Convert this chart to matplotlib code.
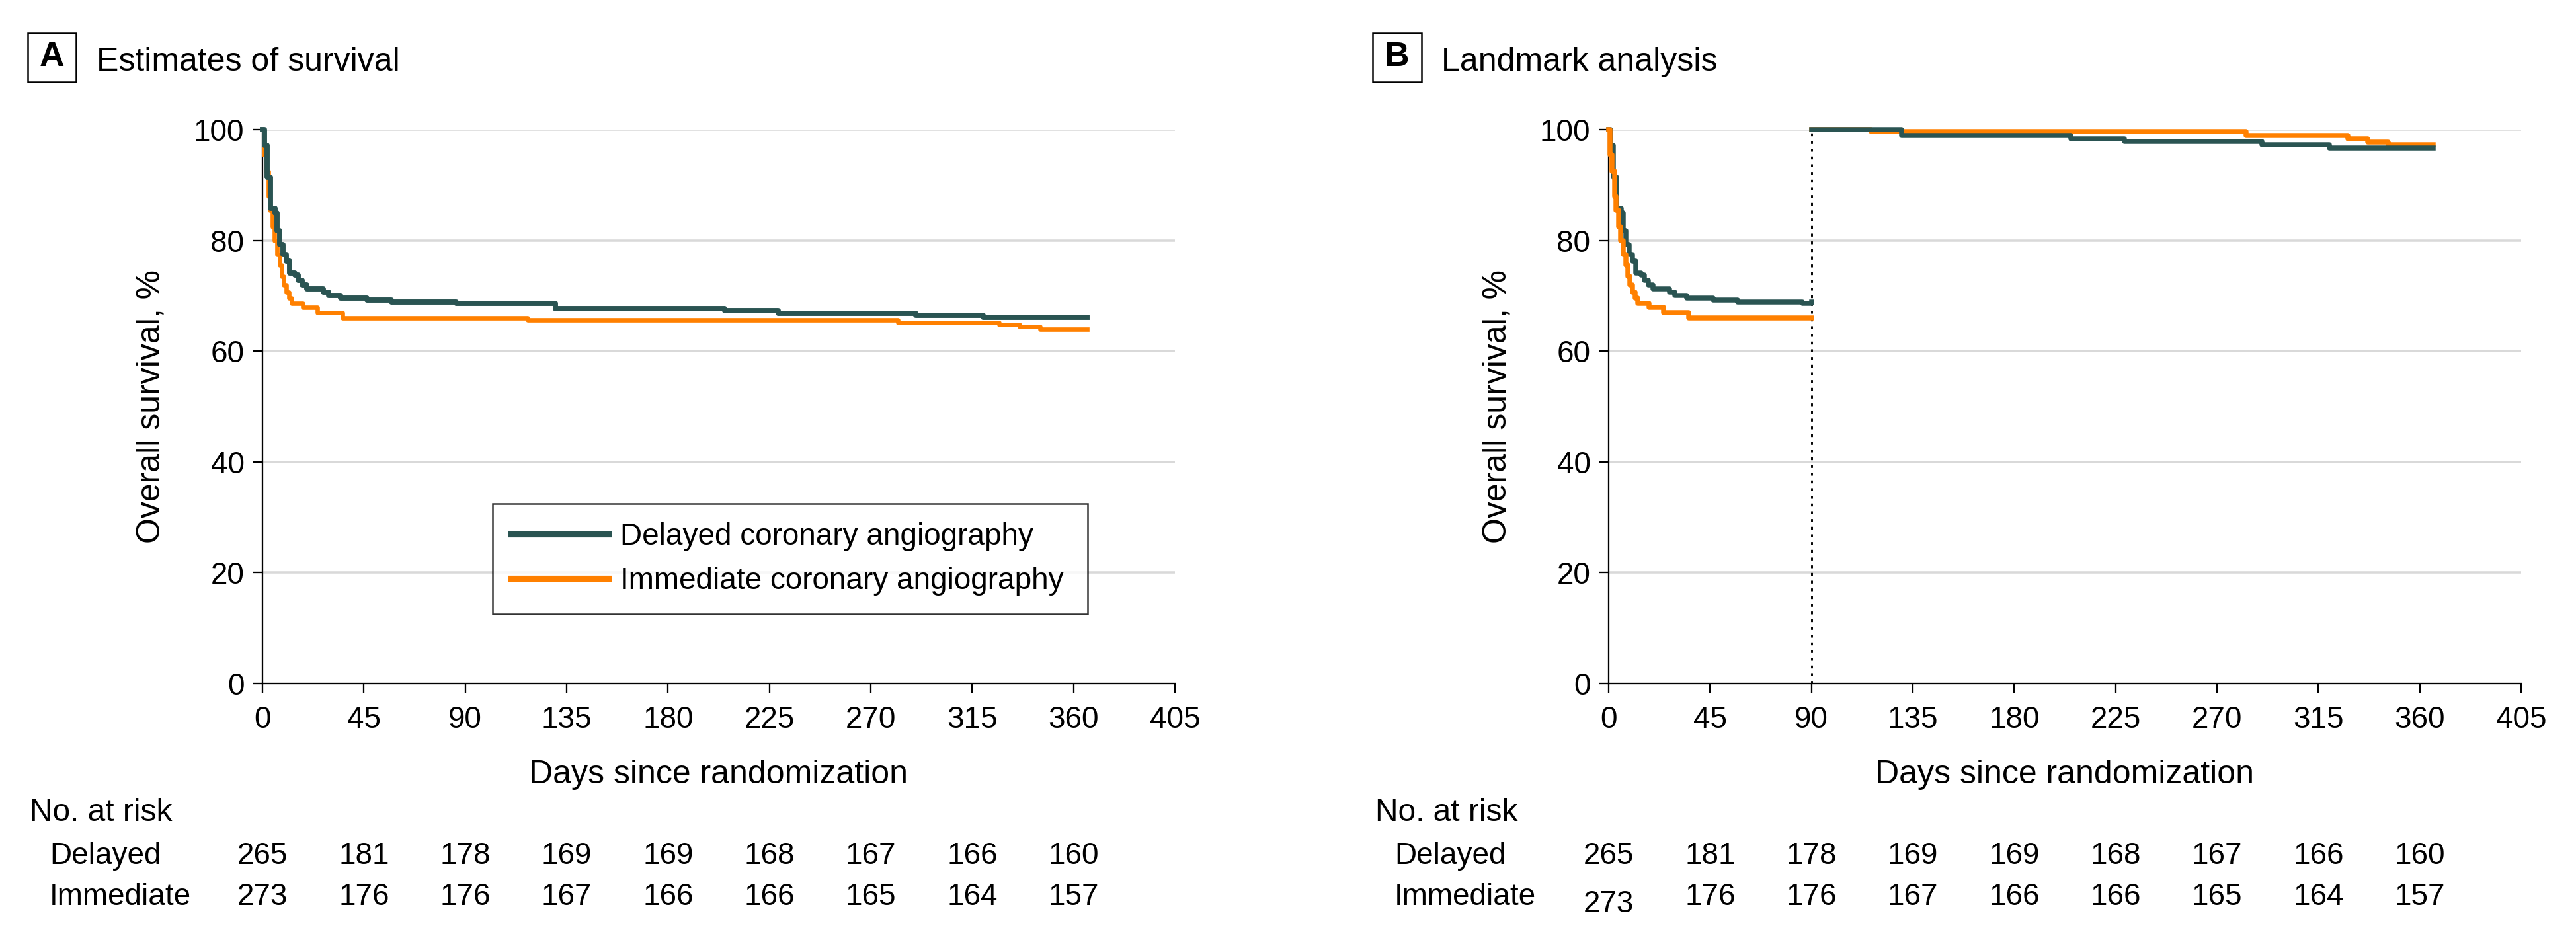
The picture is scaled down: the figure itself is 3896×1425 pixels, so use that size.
"""Kaplan-Meier survival plots: delayed vs immediate coronary angiography."""

import matplotlib
matplotlib.use('Agg')
import matplotlib.pyplot as plt
from matplotlib.patches import Rectangle
from matplotlib.transforms import blended_transform_factory

plt.rcParams['font.family'] = ['Liberation Sans', 'DejaVu Sans']

DARK = '#2a5452'
ORANGE = '#ff8000'
GRID = '#d9d9d9'

# step curves (day, survival %)
delayed_days = [0, 1.0, 2.2, 3.4, 5.6, 6.6, 7.5, 9.0, 10.5, 12.0, 14.3, 15.8, 17.6,
                19.6, 27.0, 29.4, 34.7, 46.5, 57.2, 86.1, 130, 205, 229, 290, 320, 366]
delayed_surv = [100, 97.1, 91.4, 85.8, 85.0, 81.8, 79.2, 77.5, 76.2, 74.1, 73.7, 72.8, 72.0,
                71.2, 70.7, 70.1, 69.6, 69.2, 68.9, 68.6, 67.7, 67.3, 66.8, 66.5, 66.1, 66.1]

immediate_days = [0, 0.5, 1.5, 2.5, 3.2, 4.5, 5.2, 6.5, 7.5, 8.5, 9.5, 10.5, 11.7,
                  13.0, 18.0, 24.5, 35.5, 117.7, 282, 327, 336, 345, 366]
immediate_surv = [100, 95.5, 92.5, 88.0, 85.5, 82.5, 80.0, 77.5, 75.5, 73.5, 72.0, 70.7, 69.6,
                  68.6, 67.9, 66.9, 66.0, 65.6, 65.2, 64.8, 64.4, 64.0, 64.0]

# landmark analysis, 90 days onward
lm_delayed_days = [90, 130, 205, 229, 290, 320, 366]
lm_delayed_surv = [100, 98.9, 98.3, 97.8, 97.2, 96.7, 96.7]
lm_immediate_days = [90, 116.6, 283, 328, 337, 346, 366]
lm_immediate_surv = [100, 99.6, 98.9, 98.3, 97.7, 97.3, 97.3]

risk_days = [0, 45, 90, 135, 180, 225, 270, 315, 360]
delayed_risk = [265, 181, 178, 169, 169, 168, 167, 166, 160]
immediate_risk = [273, 176, 176, 167, 166, 166, 165, 164, 157]

x_ticks = [0, 45, 90, 135, 180, 225, 270, 315, 360, 405]
y_ticks = [0, 20, 40, 60, 80, 100]

W, H = 3896, 1425
fig = plt.figure(figsize=(W / 300, H / 300), dpi=300)


def setup_axes(left_px):
  ax = fig.add_axes([left_px / W, 1 - 1034 / H, 1380 / W, 838 / H])
  ax.set_xlim(0, 405)
  ax.set_ylim(0, 100)
  ax.set_xticks(x_ticks)
  ax.set_yticks(y_ticks)
  for y in y_ticks[1:]:
    ax.axhline(y, color=GRID, lw=0.85, zorder=0)
  for s in ['top', 'right']:
    ax.spines[s].set_visible(False)
  for s in ['left', 'bottom']:
    ax.spines[s].set_linewidth(0.55)
  ax.tick_params(length=3.6, width=0.55, labelsize=11)
  ax.tick_params(axis='x', pad=4.4)
  ax.tick_params(axis='y', pad=3)
  ax.set_xlabel('Days since randomization', fontsize=12, labelpad=9)
  ax.set_ylabel('Overall survival, %', fontsize=12, labelpad=10)
  return ax


def panel_title(box_px, letter, text):
  fig.patches.append(Rectangle((box_px / W, 1 - 124 / H), 73.5 / W, 74 / H,
                               transform=fig.transFigure, fill=False, lw=0.6,
                               edgecolor='black'))
  fig.text((box_px + 36.7) / W, 1 - 87 / H, letter, fontsize=12.5, fontweight='bold',
           ha='center', va='center')
  fig.text((box_px + 104) / W, 1 - 107 / H, text, fontsize=12, ha='left',
           va='baseline')


def risk_table(ax, head_px, label_px, low_first=False):
  fig.text(head_px / W, 1 - 1230 / H, 'No. at risk', fontsize=11.5, va='center')
  fig.text(label_px / W, 1 - 1295 / H, 'Delayed', fontsize=11, va='center')
  fig.text(label_px / W, 1 - 1357 / H, 'Immediate', fontsize=11, va='center')
  tr = blended_transform_factory(ax.transData, fig.transFigure)
  for i, d in enumerate(risk_days):
    ax.text(d, 1 - 1295 / H, str(delayed_risk[i]), transform=tr, fontsize=11,
            ha='center', va='center')
    y = 1 - 1357 / H
    if low_first and i == 0:
      y = 1 - 1368 / H
    ax.text(d, y, str(immediate_risk[i]), transform=tr, fontsize=11,
            ha='center', va='center')


# Panel A
ax1 = setup_axes(397)
ax1.step(immediate_days, immediate_surv, where='post', color=ORANGE, lw=1.6,
         clip_on=False, zorder=3, label='Immediate coronary angiography')
ax1.step(delayed_days, delayed_surv, where='post', color=DARK, lw=1.9,
         clip_on=False, zorder=4, label='Delayed coronary angiography')
handles, labels = ax1.get_legend_handles_labels()
leg = ax1.legend(handles[::-1], labels[::-1], loc='lower left',
                 bbox_to_anchor=(0.252, 0.125, 0.652, 0.203), mode='expand',
                 fontsize=11, frameon=True, fancybox=False, edgecolor='black',
                 handlelength=3.2, handletextpad=0.4, borderpad=0.62,
                 labelspacing=0.5, borderaxespad=0)
leg.get_frame().set_linewidth(0.6)
for line in leg.get_lines():
  line.set_linewidth(2.2)
panel_title(41.5, 'A', 'Estimates of survival')
risk_table(ax1, 45, 75)

# Panel B: curves split at the 90-day landmark
ax2 = setup_axes(2433)
ax2.step([d for d in delayed_days if d < 90] + [90],
         [s for d, s in zip(delayed_days, delayed_surv) if d < 90] + [68.9],
         where='post', color=DARK, lw=1.8, clip_on=False, zorder=3)
ax2.step([d for d in immediate_days if d < 90] + [90],
         [s for d, s in zip(immediate_days, immediate_surv) if d < 90] + [66.0],
         where='post', color=ORANGE, lw=1.8, clip_on=False, zorder=4)
ax2.step(lm_immediate_days, lm_immediate_surv, where='post', color=ORANGE, lw=1.8,
         clip_on=False, zorder=3)
ax2.step(lm_delayed_days, lm_delayed_surv, where='post', color=DARK, lw=1.8,
         clip_on=False, zorder=4)
ax2.plot([90, 90], [0, 100], color='black', lw=0.7, linestyle=(0, (1.5, 2.5)), zorder=2)
panel_title(2076, 'B', 'Landmark analysis')
risk_table(ax2, 2080, 2109, low_first=True)

fig.savefig('out.png', dpi=300)
